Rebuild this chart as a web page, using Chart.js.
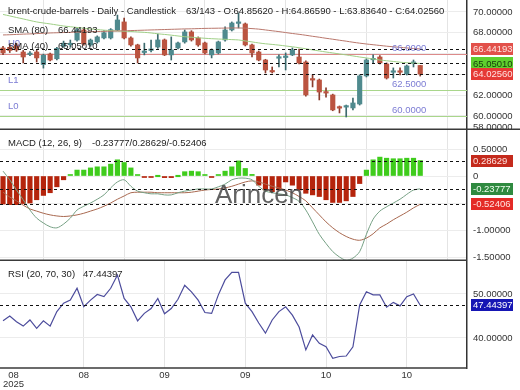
<!DOCTYPE html>
<html>
<head>
<meta charset="utf-8">
<script src="https://cdn.jsdelivr.net/npm/chart.js@4.4.1/dist/chart.umd.min.js"></script>
<style>
  html, body { margin: 0; padding: 0; background: #fff; }
  #wrap { position: relative; width: 520px; height: 390px; overflow: hidden; }
  canvas { position: absolute; left: 0; }
</style>
</head>
<body>
<div id="wrap">
  <canvas id="price" width="520" height="130" style="top:0"></canvas>
  <canvas id="macd" width="520" height="131" style="top:130px"></canvas>
  <canvas id="rsi" width="520" height="129" style="top:261px"></canvas>
</div>
<script>
// daily candles, oldest first
const opens = [66.54, 66.6, 66.83, 66.15, 65.9, 66.15, 64.95, 65.96, 65.5, 66.7,
  66.85, 67.3, 68.27, 66.83, 67.12, 67.5, 67.5, 68.27, 69.04, 67.5,
  66.83, 66.1, 66.3, 66.63, 67.31, 65.87, 66.54, 67.12, 68.08, 67.5,
  67.02, 65.87, 66.06, 67.31, 68.27, 68.9, 68.85, 66.83, 66.15, 65.38,
  64.3, 65.55, 65.62, 65.87, 65.67, 65.19, 63.5, 63.46, 62.25, 62.02,
  60.77, 60.85, 60.77, 61.15, 63.85, 65.4, 65.67, 65.0, 64.2, 64.25,
  64.04, 65.05, 64.8562];
const highs = [66.7, 66.9, 67.0, 66.3, 66.2, 66.3, 65.95, 66.05, 66.6, 67.2,
  67.3, 68.5, 68.4, 67.4, 67.7, 68.2, 68.4, 69.7, 69.42, 67.6,
  66.9, 67.0, 67.3, 67.88, 67.4, 67.6, 67.1, 68.27, 68.2, 67.6,
  67.1, 66.45, 67.2, 68.56, 69.04, 69.9, 68.94, 66.9, 66.25, 65.45,
  64.71, 65.87, 66.06, 66.54, 66.44, 65.3, 63.94, 63.55, 62.7, 62.1,
  60.96, 61.05, 61.73, 63.95, 65.5, 65.87, 65.8, 65.1, 64.62, 64.62,
  64.9, 65.38, 64.8659];
const lows = [65.9, 66.1, 66.2, 65.1, 65.8, 65.19, 64.6, 65.3, 65.4, 66.6,
  66.6, 67.2, 66.8, 66.7, 67.0, 67.4, 67.4, 68.2, 67.4, 66.7,
  65.1, 65.87, 66.15, 66.5, 65.8, 65.38, 66.45, 67.0, 67.2, 66.7,
  65.96, 65.58, 65.96, 67.2, 68.17, 68.46, 66.73, 65.67, 65.3, 64.13,
  64.13, 64.71, 64.42, 65.8, 65.0, 61.9, 62.79, 61.54, 61.8, 60.5,
  60.29, 59.9, 60.58, 61.05, 63.75, 65.1, 65.0, 63.55, 63.65, 63.94,
  63.94, 64.71, 63.8364];
const closes = [66.06, 66.3, 66.35, 65.67, 66.0, 65.58, 65.85, 65.38, 66.5, 67.0,
  66.9, 68.27, 66.92, 67.3, 67.6, 68.0, 68.3, 69.23, 67.5, 66.83,
  65.58, 66.2, 66.35, 67.31, 65.87, 66.35, 67.02, 68.08, 67.31, 66.83,
  66.06, 66.35, 67.12, 68.27, 68.94, 69.0, 66.83, 66.06, 65.38, 64.42,
  64.23, 65.6, 65.7, 66.35, 65.10, 62.02, 63.45, 62.3, 62.2, 60.58,
  60.75, 60.87, 61.25, 63.85, 65.38, 65.45, 65.1, 63.65, 64.25, 64.2,
  64.81, 65.1, 64.0256];

const sma80 = [67.79, 67.81, 67.84, 67.87, 67.89, 67.92, 67.95, 67.98, 68.0, 68.02,
  68.04, 68.06, 68.08, 68.10, 68.12, 68.13, 68.15, 68.17, 68.19, 68.21,
  68.23, 68.25, 68.27, 68.29, 68.31, 68.33, 68.35, 68.37, 68.38, 68.40,
  68.42, 68.43, 68.44, 68.45, 68.46, 68.46, 68.44, 68.40, 68.35, 68.27,
  68.19, 68.11, 68.02, 67.93, 67.85, 67.76, 67.66, 67.57, 67.47, 67.38,
  67.28, 67.19, 67.09, 67.00, 66.92, 66.85, 66.78, 66.71, 66.65, 66.60,
  66.54, 66.49, 66.44193];
const sma40 = [69.76, 69.62, 69.47, 69.33, 69.18, 69.04, 68.94, 68.85, 68.75, 68.65,
  68.58, 68.51, 68.44, 68.37, 68.31, 68.25, 68.21, 68.17, 68.14, 68.12,
  68.08, 68.04, 67.98, 67.90, 67.84, 67.77, 67.69, 67.62, 67.57, 67.52,
  67.47, 67.43, 67.40, 67.37, 67.34, 67.31, 67.21, 67.12, 67.02, 66.94,
  66.88, 66.81, 66.73, 66.65, 66.56, 66.46, 66.35, 66.25, 66.15, 66.06,
  65.96, 65.87, 65.77, 65.67, 65.58, 65.48, 65.38, 65.31, 65.24, 65.17,
  65.12, 65.08, 65.0501];

// support / resistance levels
const levelNames = ['U0', 'L1', 'L0'];
const levelValues = [66.0, 62.5, 60.0];

const macdLine = [0.09, -0.07, -0.26, -0.44, -0.63, -0.78, -0.87, -0.94, -0.96, -0.89,
  -0.78, -0.63, -0.56, -0.50, -0.43, -0.35, -0.22, -0.11, -0.07, -0.19,
  -0.28, -0.31, -0.33, -0.33, -0.35, -0.35, -0.31, -0.28, -0.26, -0.24,
  -0.24, -0.24, -0.20, -0.15, -0.07, -0.04, -0.04, -0.07, -0.19, -0.28,
  -0.31, -0.33, -0.35, -0.40, -0.47, -0.63, -0.85, -1.08, -1.25, -1.40,
  -1.50, -1.56, -1.52, -1.40, -1.08, -0.80, -0.65, -0.57, -0.50, -0.43,
  -0.34, -0.26, -0.23777];
const signalLine = [-0.30, -0.39, -0.46, -0.54, -0.61, -0.65, -0.69, -0.72, -0.74, -0.75,
  -0.74, -0.72, -0.69, -0.65, -0.61, -0.56, -0.50, -0.43, -0.37, -0.31,
  -0.30, -0.30, -0.30, -0.31, -0.31, -0.31, -0.31, -0.31, -0.30, -0.28,
  -0.26, -0.25, -0.24, -0.22, -0.19, -0.15, -0.11, -0.09, -0.11, -0.15,
  -0.19, -0.22, -0.26, -0.31, -0.38, -0.46, -0.59, -0.72, -0.85, -0.96,
  -1.05, -1.12, -1.17, -1.19, -1.15, -1.07, -0.96, -0.89, -0.81, -0.74,
  -0.67, -0.59, -0.52406];
const histogram = [-0.52, -0.53, -0.53, -0.51, -0.50, -0.44, -0.36, -0.31, -0.20, -0.07,
  0.02, 0.11, 0.11, 0.15, 0.17, 0.17, 0.22, 0.30, 0.25, 0.15,
  0.01, -0.02, -0.02, 0.00, -0.03, -0.03, 0.00, 0.08, 0.09, 0.08,
  0.01, -0.02, 0.02, 0.09, 0.17, 0.28, 0.14, 0.03, -0.17, -0.26,
  -0.29, -0.26, -0.11, -0.17, -0.26, -0.32, -0.35, -0.38, -0.44, -0.49,
  -0.49, -0.46, -0.38, -0.14, 0.11, 0.30, 0.35, 0.33, 0.32, 0.32,
  0.33, 0.33, 0.28629];

const rsi = [43.9, 45.0, 43.7, 42.7, 44.1, 42.2, 43.9, 42.7, 46.0, 47.9,
  48.6, 51.3, 47.1, 48.6, 49.9, 49.4, 51.3, 54.3, 49.0, 47.1,
  43.9, 45.6, 46.7, 49.0, 45.5, 46.7, 48.8, 52.0, 50.5, 48.6,
  45.8, 45.6, 49.8, 53.2, 54.9, 54.9, 47.9, 46.0, 43.4, 41.1,
  44.1, 46.0, 47.1, 45.2, 42.5, 37.3, 40.7, 38.8, 38.0, 35.4,
  35.8, 35.9, 38.0, 47.5, 50.5, 49.8, 49.8, 47.0, 48.1, 47.3,
  49.4, 50.0, 47.44397];

// x axis: candle index of grid lines and date labels
const gridIdx = [12, 24, 36, 48, 60];
const xTickIdx = [0, 12, 24, 36, 48, 60];
const xTickText = [['08', '2025'], ['08'], ['09'], ['09'], ['10'], ['10']];

const priceTicks = [70, 68, 66, 64, 62, 60];
const macdTicks = [0.5, 0, -0.5, -1, -1.5];
const rsiTicks = [50, 40];

const FONT = "'Liberation Sans', Arial, sans-serif";
Chart.defaults.font.family = FONT;
Chart.defaults.font.size = 9.5;
Chart.defaults.color = '#333';
Chart.defaults.animation = false;
Chart.defaults.events = [];
Chart.defaults.plugins.legend.display = false;
Chart.defaults.plugins.tooltip.enabled = false;

const X_MIN = -0.45, X_MAX = 68.95;
const pts = arr => arr.map((v, i) => ({ x: i, y: v }));
const last = arr => arr[arr.length - 1];

function noPad(s) {
    s.paddingTop = 0; s.paddingBottom = 0; s.paddingLeft = 0; s.paddingRight = 0;
}

function xAxis(bottomSpace) {
    return {
        type: 'linear', min: X_MIN, max: X_MAX, offset: false,
        afterBuildTicks: s => { s.ticks = gridIdx.map(v => ({ value: v })); },
        afterFit: s => { s.height = bottomSpace; noPad(s); },
        ticks: { display: false },
        grid: { color: '#e4e4e4', drawTicks: false },
        border: { display: false }
    };
}

function yAxis(min, max, ticks, fmt) {
    return {
        position: 'right', min: min, max: max,
        afterBuildTicks: s => { s.ticks = ticks.map(v => ({ value: v })); },
        afterFit: s => { s.width = 53; noPad(s); },
        ticks: { color: '#333', padding: 6, autoSkip: false, maxRotation: 0, callback: fmt },
        grid: { color: '#ececec', drawTicks: false },
        border: { display: true, color: '#333', width: 1.5 }
    };
}

function text(c, s, x, y, color, align, size) {
    c.font = (size || 9.5) + 'px ' + FONT;
    c.fillStyle = color;
    c.textAlign = align || 'left';
    c.textBaseline = 'middle';
    c.fillText(s, x, y);
}

function dotted(chart, v) {
    const c = chart.ctx, a = chart.chartArea;
    const y = Math.round(chart.scales.y.getPixelForValue(v)) + 0.5;
    c.save();
    c.strokeStyle = '#111';
    c.lineWidth = 1;
    c.setLineDash([3, 3]);
    c.beginPath();
    c.moveTo(a.left, y);
    c.lineTo(a.right, y);
    c.stroke();
    c.restore();
}

function valueBox(chart, v, label, bg, fg) {
    const c = chart.ctx, a = chart.chartArea;
    const y = chart.scales.y.getPixelForValue(v);
    c.fillStyle = bg;
    c.fillRect(a.right + 4, Math.round(y - 6), 42, 12);
    text(c, label, a.right + 6, y + 0.5, fg);
}

function separator(chart, y, toRight) {
    const c = chart.ctx;
    c.save();
    c.strokeStyle = '#3a3a3a';
    c.lineWidth = 1.5;
    c.beginPath();
    c.moveTo(0, y);
    c.lineTo(toRight, y);
    c.stroke();
    c.restore();
}

// ---------- price panel ----------
const UP = '#4f8a8e', DOWN = '#bb5440';
const UP_WICK = '#3c6a6e', DOWN_WICK = '#8a3b2c';
const isUp = i => closes[i] >= opens[i];

const pricePlugin = {
    id: 'priceOverlay',
    beforeDatasetsDraw(chart) {
        const c = chart.ctx, a = chart.chartArea, ys = chart.scales.y;
        c.save();
        c.lineWidth = 1;
        levelValues.forEach(v => {
            const y = Math.round(ys.getPixelForValue(v)) + 0.5;
            c.strokeStyle = v > last(closes) ? '#dc8a8a' : '#a9d68b';
            c.beginPath();
            c.moveTo(a.left, y);
            c.lineTo(a.right, y);
            c.stroke();
        });
        c.restore();
    },
    afterDraw(chart) {
        const c = chart.ctx, a = chart.chartArea, ys = chart.scales.y;
        dotted(chart, last(sma80));
        dotted(chart, last(sma40));
        dotted(chart, last(closes));

        levelValues.forEach((v, k) => {
            const y = ys.getPixelForValue(v);
            text(c, levelNames[k], 8, y - 10, '#7c7cd4');
            text(c, v.toFixed(4), 392, y - 5.5, '#7c7cd4');
        });

        text(c, 'brent-crude-barrels - Daily - Candlestick', 8, 11, '#222');
        text(c, '63/143 - O:' + last(opens).toFixed(5) + ' - H:' + last(highs).toFixed(5) +
            ' - L:' + last(lows).toFixed(5) + ' - C:' + last(closes).toFixed(5), 186, 11, '#222');
        text(c, 'SMA (80)', 8, 30, '#222');
        text(c, last(sma80).toFixed(5), 58, 30, '#222');
        text(c, 'SMA (40)', 8, 46, '#222');
        text(c, last(sma40).toFixed(5), 58, 46, '#222');

        text(c, '58.00000', a.right + 6, 127, '#333');
        valueBox(chart, last(sma80), last(sma80).toFixed(5), '#e2504a', '#ffe3e0');
        valueBox(chart, last(sma40), last(sma40).toFixed(5), '#5fcf2e', '#163a0c');
        valueBox(chart, last(closes), last(closes).toFixed(5), '#e53a35', '#ffe3e0');

        separator(chart, chart.height - 0.75, chart.width);
    }
};

new Chart(document.getElementById('price'), {
    type: 'bar',
    data: {
        datasets: [
            {
                type: 'line', data: pts(sma80), borderColor: '#b9776c', borderWidth: 1,
                pointRadius: 0, tension: 0.3, order: 0
            },
            {
                type: 'line', data: pts(sma40), borderColor: '#9fcf86', borderWidth: 1,
                pointRadius: 0, tension: 0.3, order: 0
            },
            {
                data: opens.map((o, i) => ({ x: i, y: [o, closes[i]] })),
                backgroundColor: ctx => isUp(ctx.dataIndex) ? UP : DOWN,
                barThickness: 4.5, grouped: false, minBarLength: 1.5, order: 1
            },
            {
                data: lows.map((l, i) => ({ x: i, y: [l, highs[i]] })),
                backgroundColor: ctx => isUp(ctx.dataIndex) ? UP_WICK : DOWN_WICK,
                barThickness: 1, grouped: false, order: 2
            }
        ]
    },
    options: {
        responsive: false,
        layout: { padding: 0 },
        scales: {
            x: xAxis(0),
            y: yAxis(58.65, 71.15, priceTicks, v => (v === 66 || v === 64) ? '' : v.toFixed(5))
        }
    },
    plugins: [pricePlugin]
});

// ---------- MACD panel ----------
const macdPlugin = {
    id: 'macdOverlay',
    afterDraw(chart) {
        const c = chart.ctx, a = chart.chartArea;
        dotted(chart, last(histogram));
        dotted(chart, last(macdLine));
        dotted(chart, last(signalLine));

        c.save();
        c.font = '26px ' + FONT;
        c.fillStyle = 'rgba(70,70,70,0.85)';
        c.textAlign = 'center';
        c.textBaseline = 'alphabetic';
        c.fillText('Arincen', 259, 73);
        c.restore();

        text(c, 'MACD (12, 26, 9)', 8, 13, '#222');
        text(c, last(macdLine).toFixed(5) + '/' + last(histogram).toFixed(5) + '/' +
            last(signalLine).toFixed(5), 92, 13, '#222');

        valueBox(chart, last(histogram), last(histogram).toFixed(5), '#c42a1c', '#ffe3e0');
        valueBox(chart, last(macdLine), last(macdLine).toFixed(5), '#2f8a40', '#f0fff0');
        valueBox(chart, last(signalLine), last(signalLine).toFixed(5), '#e42a26', '#ffe3e0');

        separator(chart, chart.height - 0.75, a.right);
    }
};

new Chart(document.getElementById('macd'), {
    type: 'bar',
    data: {
        datasets: [
            {
                type: 'line', data: pts(macdLine), borderColor: '#76a084', borderWidth: 1,
                pointRadius: 0, tension: 0.3, order: 0
            },
            {
                type: 'line', data: pts(signalLine), borderColor: '#a8684f', borderWidth: 1,
                pointRadius: 0, tension: 0.3, order: 0
            },
            {
                data: pts(histogram),
                backgroundColor: ctx => histogram[ctx.dataIndex] >= 0 ? '#3fcc1c' : '#b5240c',
                barThickness: 4.5, grouped: false, minBarLength: 1.5, order: 1
            }
        ]
    },
    options: {
        responsive: false,
        layout: { padding: 0 },
        scales: {
            x: xAxis(0),
            y: yAxis(-1.574, 0.852, macdTicks, v => v === 0 ? '0' : (v === -0.5 ? '' : v.toFixed(5)))
        }
    },
    plugins: [macdPlugin]
});

// ---------- RSI panel ----------
const rsiPlugin = {
    id: 'rsiOverlay',
    afterDraw(chart) {
        const c = chart.ctx, a = chart.chartArea, xs = chart.scales.x;
        dotted(chart, last(rsi));
        text(c, 'RSI (20, 70, 30)', 8, 13, '#222');
        text(c, last(rsi).toFixed(5), 83, 13, '#222');
        valueBox(chart, last(rsi), last(rsi).toFixed(5), '#1616b4', '#ffffff');

        separator(chart, a.bottom, a.right);

        // date labels under the plot
        c.font = '9.5px ' + FONT;
        xTickIdx.forEach((v, k) => {
            const lines = xTickText[k];
            const w = Math.max(...lines.map(s => c.measureText(s).width));
            let cx = xs.getPixelForValue(v);
            if (cx - w / 2 < 3) cx = 3 + w / 2;
            lines.forEach((s, j) => text(c, s, cx, a.bottom + 7 + j * 9.5, '#333', 'center'));
        });
    }
};

new Chart(document.getElementById('rsi'), {
    type: 'line',
    data: {
        datasets: [{
            data: pts(rsi), borderColor: '#4c4c9c', borderWidth: 1.2,
            pointRadius: 0, tension: 0
        }]
    },
    options: {
        responsive: false,
        layout: { padding: 0 },
        scales: {
            x: xAxis(22),
            y: yAxis(33.18, 57.5, rsiTicks, v => v.toFixed(5))
        }
    },
    plugins: [rsiPlugin]
});
</script>
</body>
</html>
